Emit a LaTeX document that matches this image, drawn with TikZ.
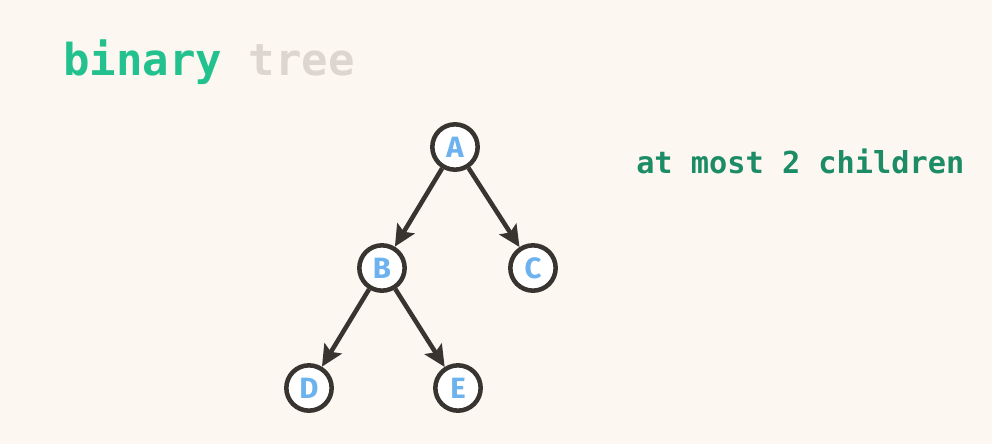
\documentclass[tikz,border=0pt]{standalone}
\usepackage{fontspec}
\setmainfont{Fira Sans}
\newfontfamily\codefont{DejaVu Sans Mono}
\usetikzlibrary{arrows.meta,positioning}
\definecolor{paper}{HTML}{FDF7F1}
\definecolor{mint}{HTML}{22C18E}
\definecolor{ash}{HTML}{DDD6D0}
\definecolor{pine}{HTML}{1B8C66}
\definecolor{ink}{HTML}{38342F}
\definecolor{sky}{HTML}{6CB2EE}
\tikzstyle{vertex} = [circle, inner sep=0pt, minimum size=34pt, line width=3.4pt, draw=ink, fill=white, text=sky, font=\fontsize{22}{22}\selectfont\bfseries]
\tikzstyle{arrow} = [line width=3.4pt, draw=ink, -{Stealth[length=16pt,width=15pt,inset=3pt]}]

\begin{document}
\begin{tikzpicture}[x=0.75pt,y=-0.75pt]
\fill[paper] (0,0) rectangle (992,444);
\useasboundingbox (0,0) rectangle (992,444);
\node (title) [anchor=base west, inner sep=0pt, font=\codefont\fontsize{33}{33}\selectfont\bfseries] at (63,75) {\textcolor{mint}{binary} \textcolor{ash}{tree}};
\node (note) [anchor=base west, inner sep=0pt, text=pine, font=\codefont\fontsize{22.7}{22.7}\selectfont\bfseries] at (636,173) {at most 2 children};
\draw (455,147) node (a) [vertex] {A};%root
\draw (382,268) node (b) [vertex] {B};
\draw (533,268) node (c) [vertex] {C};
\draw (309,388) node (d) [vertex] {D};
\draw (458,388) node (e) [vertex] {E};
\draw[arrow] (a)--(b);
\draw[arrow] (a)--(c);
\draw[arrow] (b)--(d);
\draw[arrow] (b)--(e);
\end{tikzpicture}
\end{document}
